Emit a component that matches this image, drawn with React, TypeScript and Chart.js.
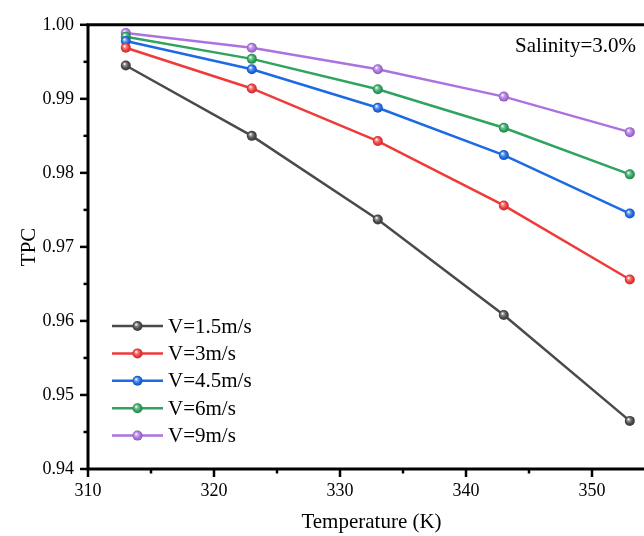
import { useEffect, useRef } from "react";
import { Chart, registerables } from "chart.js";

Chart.register(...registerables);

// ---- data ----
const temperatures = [313, 323, 333, 343, 353];
const seriesLabels = ["V=1.5m/s", "V=3m/s", "V=4.5m/s", "V=6m/s", "V=9m/s"];
const tpcV15 = [0.9945, 0.985, 0.9737, 0.9608, 0.9465];
const tpcV3 = [0.9969, 0.9914, 0.9843, 0.9756, 0.9656];
const tpcV45 = [0.9978, 0.994, 0.9888, 0.9824, 0.9745];
const tpcV6 = [0.9984, 0.9954, 0.9913, 0.9861, 0.9798];
const tpcV9 = [0.9989, 0.9969, 0.994, 0.9903, 0.9855];
const seriesValues = [tpcV15, tpcV3, tpcV45, tpcV6, tpcV9];
const seriesColors = ["#4a4a4a", "#f03a3a", "#1c6ae4", "#2fa45e", "#ab72e0"];
const xTickValues = [310, 320, 330, 340, 350];
const yTickValues = [0.94, 0.95, 0.96, 0.97, 0.98, 0.99, 1.0];
const annotationText = "Salinity=3.0%";

const FONT = "'Liberation Serif', 'Times New Roman', serif";

function shade(hex: string, amt: number): string {
  const n = parseInt(hex.slice(1), 16);
  let r = (n >> 16) & 255, g = (n >> 8) & 255, b = n & 255;
  if (amt >= 0) {
    r = Math.round(r + (255 - r) * amt);
    g = Math.round(g + (255 - g) * amt);
    b = Math.round(b + (255 - b) * amt);
  } else {
    r = Math.round(r * (1 + amt));
    g = Math.round(g * (1 + amt));
    b = Math.round(b * (1 + amt));
  }
  return `rgb(${r},${g},${b})`;
}

function sphereFill(ctx: CanvasRenderingContext2D, x: number, y: number, r: number, color: string) {
  const g = ctx.createRadialGradient(x - r * 0.3, y - r * 0.35, 0.2, x, y, r * 1.05);
  g.addColorStop(0, "#ffffff");
  g.addColorStop(0.3, shade(color, 0.35));
  g.addColorStop(0.65, color);
  g.addColorStop(1, shade(color, -0.25));
  return g;
}

function pointFill(color: string) {
  return (c: any) => {
    const chart = c.chart;
    if (!c.parsed || !chart.scales || !chart.scales.x) return color;
    const x = chart.scales.x.getPixelForValue(c.parsed.x);
    const y = chart.scales.y.getPixelForValue(c.parsed.y);
    if (!isFinite(x) || !isFinite(y)) return color;
    return sphereFill(chart.ctx, x, y, 5, color);
  };
}

const framePlugin = {
  id: "frame",
  afterDraw(chart: any) {
    const { ctx, chartArea, scales } = chart;
    const { left, right, top, bottom } = chartArea;
    ctx.save();
    ctx.strokeStyle = "#000";
    ctx.lineCap = "butt";
    // ticks
    ctx.lineWidth = 2.5;
    const xs = scales.x;
    for (let v = 310; v <= 355; v += 5) {
      const px = xs.getPixelForValue(v);
      const major = v % 10 === 0;
      ctx.beginPath();
      ctx.moveTo(px, bottom);
      ctx.lineTo(px, bottom + (major ? 8 : 4.5));
      ctx.stroke();
    }
    const ys = scales.y;
    for (let i = 0; i <= 12; i++) {
      const v = 0.94 + i * 0.005;
      const py = ys.getPixelForValue(v);
      const major = i % 2 === 0;
      ctx.beginPath();
      ctx.moveTo(left, py);
      ctx.lineTo(left - (major ? 8 : 4.5), py);
      ctx.stroke();
    }
    // axes lines
    ctx.lineWidth = 3;
    ctx.beginPath();
    ctx.moveTo(left, top - 1.5);
    ctx.lineTo(left, bottom + 1.5);
    ctx.moveTo(left - 1.5, bottom);
    ctx.lineTo(right, bottom);
    ctx.moveTo(left - 1.5, top);
    ctx.lineTo(right, top);
    ctx.moveTo(right, top - 1.5);
    ctx.lineTo(right, bottom + 1.5);
    ctx.stroke();

    // annotation
    ctx.fillStyle = "#000";
    ctx.font = `21px ${FONT}`;
    ctx.textAlign = "right";
    ctx.textBaseline = "middle";
    ctx.fillText(annotationText, 636, 46);

    // legend
    const rowY0 = 326;
    const rowGap = 27.4;
    chart.data.datasets.forEach((ds: any, i: number) => {
      const y = rowY0 + i * rowGap;
      const color = ds.borderColor;
      ctx.strokeStyle = color;
      ctx.lineWidth = 2.5;
      ctx.beginPath();
      ctx.moveTo(112, y);
      ctx.lineTo(163, y);
      ctx.stroke();
      ctx.beginPath();
      ctx.arc(137.5, y, 5, 0, Math.PI * 2);
      ctx.fillStyle = sphereFill(ctx, 137.5, y, 5, color);
      ctx.fill();
      ctx.fillStyle = "#000";
      ctx.textAlign = "left";
      ctx.textBaseline = "middle";
      ctx.font = `21px ${FONT}`;
      ctx.fillText(ds.label, 168, y + 1);
    });
    ctx.restore();
  },
};

export default function App() {
  const canvasRef = useRef<HTMLCanvasElement | null>(null);

  useEffect(() => {
    document.body.style.margin = "0";
    const canvas = canvasRef.current;
    if (!canvas) return;
    const chart = new Chart(canvas, {
      type: "line",
      data: {
        datasets: seriesValues.map((vals, i) => ({
          label: seriesLabels[i],
          data: temperatures.map((t, j) => ({ x: t, y: vals[j] })),
          borderColor: seriesColors[i],
          backgroundColor: seriesColors[i],
          borderWidth: 2.5,
          pointRadius: 5,
          pointBorderWidth: 0,
          pointBackgroundColor: pointFill(seriesColors[i]),
          tension: 0,
          fill: false,
        })),
      },
      options: {
        animation: false,
        responsive: false,
        devicePixelRatio: 1,
        events: [],
        layout: { padding: { top: 23, right: 4, left: 0, bottom: 0 } },
        plugins: {
          legend: { display: false },
          tooltip: { enabled: false },
        },
        scales: {
          x: {
            type: "linear",
            min: 310,
            max: 355,
            afterBuildTicks: (scale: any) => {
              scale.ticks = xTickValues.map((v) => ({ value: v }));
            },
            afterFit: (scale: any) => {
              scale.height = 67;
            },
            grid: { display: false, drawTicks: false },
            border: { display: false },
            ticks: {
              color: "#000",
              font: { family: FONT, size: 18 },
              padding: 11,
              maxRotation: 0,
              callback: (v: any) => String(v),
            },
            title: {
              display: true,
              text: "Temperature (K)",
              color: "#000",
              font: { family: FONT, size: 21 },
              padding: { top: 0, bottom: 1 },
            },
          },
          y: {
            type: "linear",
            min: 0.94,
            max: 1.0,
            afterBuildTicks: (scale: any) => {
              scale.ticks = yTickValues.map((v) => ({ value: v }));
            },
            afterFit: (scale: any) => {
              scale.width = 88;
            },
            grid: { display: false, drawTicks: false },
            border: { display: false },
            ticks: {
              color: "#000",
              font: { family: FONT, size: 18 },
              padding: 14,
              callback: (v: any) => Number(v).toFixed(2),
            },
            title: {
              display: true,
              text: "TPC",
              color: "#000",
              font: { family: FONT, size: 21 },
              padding: { top: 17, bottom: 0 },
            },
          },
        },
      },
      plugins: [framePlugin],
    });
    return () => chart.destroy();
  }, []);

  return (
    <div style={{ width: 644, height: 536, overflow: "hidden", position: "relative", background: "#fff" }}>
      <canvas ref={canvasRef} width={660} height={536} style={{ display: "block", width: 660, height: 536 }} />
    </div>
  );
}
